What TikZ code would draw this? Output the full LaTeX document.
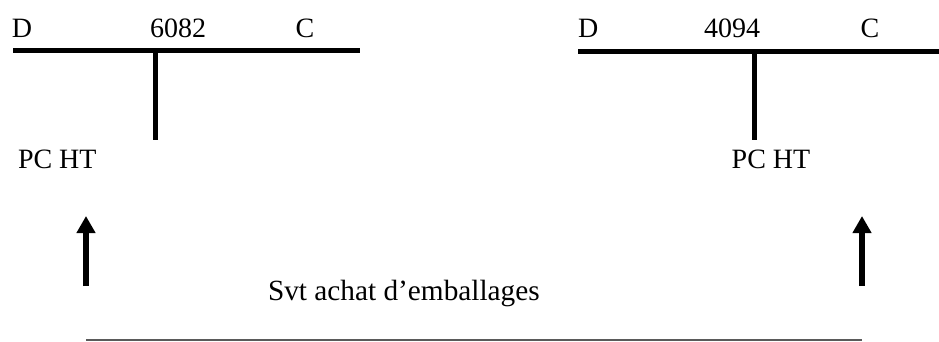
\documentclass[tikz,border=0pt]{standalone}
\usepackage{fontspec}
\setmainfont{Liberation Serif}
\usetikzlibrary{arrows.meta}
\begin{document}
\begin{tikzpicture}[x=1pt,y=-1pt,
  lbl/.style={inner sep=0pt,outer sep=0pt,font=\fontsize{28}{30}\selectfont},
  caption/.style={inner sep=0pt,outer sep=0pt,font=\fontsize{29.3}{31}\selectfont},
  tline/.style={line width=5pt},
  uparrow/.style={line width=6pt,-{Triangle[width=18pt,length=17pt]}},
  baseline/.style={line width=1.4pt,draw={rgb,255:red,90;green,90;blue,90}}]
\useasboundingbox (0,0) rectangle (939,341);
% left T-account
\coordinate (L1) at (13,50);
\coordinate (L2) at (360,50);
\coordinate (LT) at (155,50);
\coordinate (LB) at (155,140);
\draw[tline] (L1) -- (L2);
\draw[tline] (LT) -- (LB);
\node[lbl,anchor=base west] (ld) at (12,37) {D};
\node[lbl,anchor=base] (ln) at (178,37) {6082};
\node[lbl,anchor=base] (lc) at (305,37) {C};
\node[lbl,anchor=base west] (lpc) at (18,168) {PC HT};
% right T-account
\coordinate (R1) at (578,51);
\coordinate (R2) at (939,51);
\coordinate (RT) at (754,51);
\coordinate (RB) at (754,140);
\draw[tline] (R1) -- (R2);
\draw[tline] (RT) -- (RB);
\node[lbl,anchor=base west] (rd) at (578,37) {D};
\node[lbl,anchor=base] (rn) at (732,37) {4094};
\node[lbl,anchor=base] (rc) at (870,37) {C};
\node[lbl,anchor=base] (rpc) at (771,168) {PC HT};
% arrows
\coordinate (A1) at (86,286);
\coordinate (A1t) at (86,216);
\coordinate (A2) at (862,286);
\coordinate (A2t) at (862,216);
\draw[uparrow] (A1) -- (A1t);
\draw[uparrow] (A2) -- (A2t);
% caption and rule
\node[caption,anchor=base west] (svt) at (268,300) {Svt achat d’emballages};
\coordinate (B1) at (86,340);
\coordinate (B2) at (862,340);
\draw[baseline] (B1) -- (B2);
\end{tikzpicture}
\end{document}
